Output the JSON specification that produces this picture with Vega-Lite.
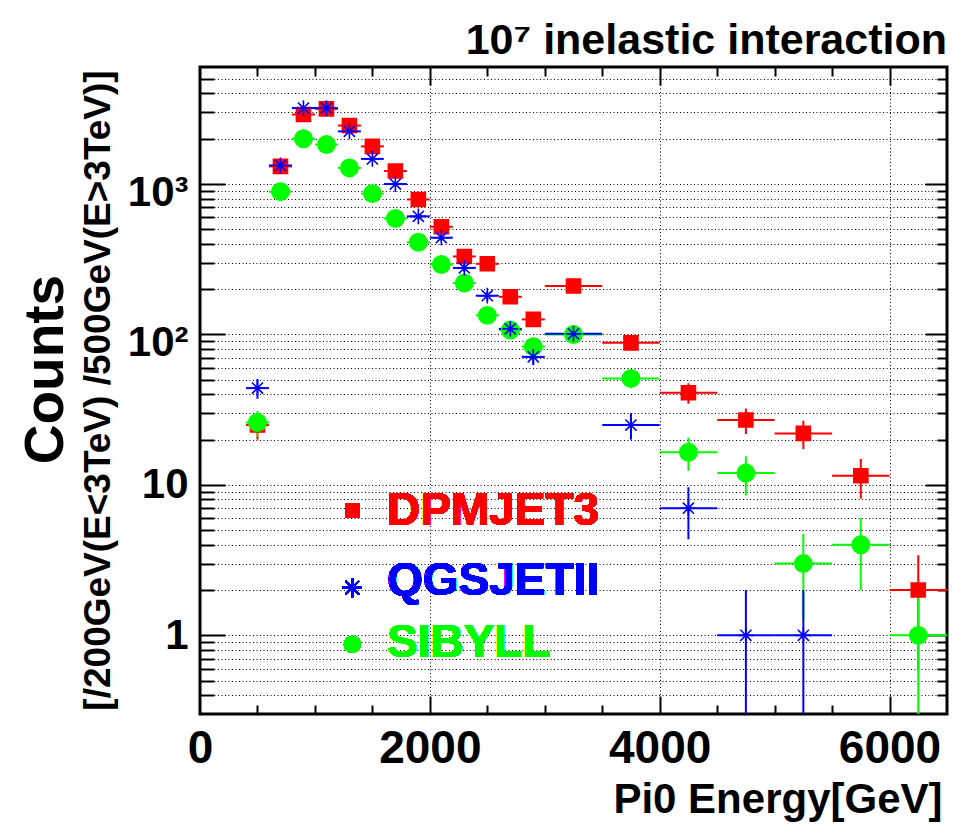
{
  "$schema": "https://vega.github.io/schema/vega-lite/v6.json",
  "width": 747,
  "height": 647,
  "autosize": {"type": "none"},
  "padding": {"left": 200, "top": 67, "right": 23, "bottom": 113},
  "background": "#ffffff",
  "title": {"text": "10⁷ inelastic interaction", "anchor": "end", "frame": "group", "font": "Liberation Sans", "fontSize": 43, "fontWeight": "bold", "color": "#000000", "baseline": "alphabetic", "offset": 10, "dy": 41},
  "config": {"view": {"stroke": "#000000", "strokeWidth": 3}, "font": "Liberation Sans"},
  "data": {"values": [
    {"m": "DPMJET3", "E": 500, "xl": 400, "xh": 600, "n": 25, "lo": 20, "hi": 30},
    {"m": "DPMJET3", "E": 700, "xl": 600, "xh": 800, "n": 1310, "lo": 1274, "hi": 1346},
    {"m": "DPMJET3", "E": 900, "xl": 800, "xh": 1000, "n": 2900, "lo": 2846, "hi": 2954},
    {"m": "DPMJET3", "E": 1100, "xl": 1000, "xh": 1200, "n": 3160, "lo": 3104, "hi": 3216},
    {"m": "DPMJET3", "E": 1300, "xl": 1200, "xh": 1400, "n": 2450, "lo": 2400, "hi": 2500},
    {"m": "DPMJET3", "E": 1500, "xl": 1400, "xh": 1600, "n": 1780, "lo": 1738, "hi": 1822},
    {"m": "DPMJET3", "E": 1700, "xl": 1600, "xh": 1800, "n": 1220, "lo": 1185, "hi": 1255},
    {"m": "DPMJET3", "E": 1900, "xl": 1800, "xh": 2000, "n": 790, "lo": 762, "hi": 818},
    {"m": "DPMJET3", "E": 2100, "xl": 2000, "xh": 2200, "n": 520, "lo": 497, "hi": 543},
    {"m": "DPMJET3", "E": 2300, "xl": 2200, "xh": 2400, "n": 330, "lo": 312, "hi": 348},
    {"m": "DPMJET3", "E": 2500, "xl": 2400, "xh": 2600, "n": 295, "lo": 278, "hi": 312},
    {"m": "DPMJET3", "E": 2700, "xl": 2600, "xh": 2800, "n": 178, "lo": 165, "hi": 191},
    {"m": "DPMJET3", "E": 2900, "xl": 2800, "xh": 3000, "n": 126, "lo": 115, "hi": 137},
    {"m": "DPMJET3", "E": 3250, "xl": 3000, "xh": 3500, "n": 210, "lo": 195.5, "hi": 224.5},
    {"m": "DPMJET3", "E": 3750, "xl": 3500, "xh": 4000, "n": 88, "lo": 78.6, "hi": 97.4},
    {"m": "DPMJET3", "E": 4250, "xl": 4000, "xh": 4500, "n": 41, "lo": 34.6, "hi": 47.4},
    {"m": "DPMJET3", "E": 4750, "xl": 4500, "xh": 5000, "n": 27, "lo": 21.8, "hi": 32.2},
    {"m": "DPMJET3", "E": 5250, "xl": 5000, "xh": 5500, "n": 22, "lo": 17.3, "hi": 26.7},
    {"m": "DPMJET3", "E": 5750, "xl": 5500, "xh": 6000, "n": 11.5, "lo": 8.1, "hi": 14.9},
    {"m": "DPMJET3", "E": 6250, "xl": 6000, "xh": 6500, "n": 2, "lo": 0.59, "hi": 3.41},
    {"m": "SIBYLL", "E": 500, "xl": 400, "xh": 600, "n": 26, "lo": 20.9, "hi": 31.1},
    {"m": "SIBYLL", "E": 700, "xl": 600, "xh": 800, "n": 890, "lo": 860, "hi": 920},
    {"m": "SIBYLL", "E": 900, "xl": 800, "xh": 1000, "n": 2000, "lo": 1955, "hi": 2045},
    {"m": "SIBYLL", "E": 1100, "xl": 1000, "xh": 1200, "n": 1830, "lo": 1787, "hi": 1873},
    {"m": "SIBYLL", "E": 1300, "xl": 1200, "xh": 1400, "n": 1280, "lo": 1244, "hi": 1316},
    {"m": "SIBYLL", "E": 1500, "xl": 1400, "xh": 1600, "n": 864, "lo": 835, "hi": 893},
    {"m": "SIBYLL", "E": 1700, "xl": 1600, "xh": 1800, "n": 590, "lo": 566, "hi": 614},
    {"m": "SIBYLL", "E": 1900, "xl": 1800, "xh": 2000, "n": 410, "lo": 390, "hi": 430},
    {"m": "SIBYLL", "E": 2100, "xl": 2000, "xh": 2200, "n": 292, "lo": 275, "hi": 309},
    {"m": "SIBYLL", "E": 2300, "xl": 2200, "xh": 2400, "n": 220, "lo": 205, "hi": 235},
    {"m": "SIBYLL", "E": 2500, "xl": 2400, "xh": 2600, "n": 134, "lo": 122.4, "hi": 145.6},
    {"m": "SIBYLL", "E": 2700, "xl": 2600, "xh": 2800, "n": 107, "lo": 96.7, "hi": 117.3},
    {"m": "SIBYLL", "E": 2900, "xl": 2800, "xh": 3000, "n": 83, "lo": 73.9, "hi": 92.1},
    {"m": "SIBYLL", "E": 3250, "xl": 3000, "xh": 3500, "n": 100, "lo": 90, "hi": 110},
    {"m": "SIBYLL", "E": 3750, "xl": 3500, "xh": 4000, "n": 51, "lo": 43.9, "hi": 58.1},
    {"m": "SIBYLL", "E": 4250, "xl": 4000, "xh": 4500, "n": 16.5, "lo": 12.4, "hi": 20.6},
    {"m": "SIBYLL", "E": 4750, "xl": 4500, "xh": 5000, "n": 12, "lo": 8.5, "hi": 15.5},
    {"m": "SIBYLL", "E": 5250, "xl": 5000, "xh": 5500, "n": 3, "lo": 1.27, "hi": 4.73},
    {"m": "SIBYLL", "E": 5750, "xl": 5500, "xh": 6000, "n": 4, "lo": 2, "hi": 6},
    {"m": "SIBYLL", "E": 6250, "xl": 6000, "xh": 6500, "n": 1, "lo": 0.01, "hi": 2},
    {"m": "QGSJETII", "E": 500, "xl": 400, "xh": 600, "n": 44, "lo": 37.4, "hi": 50.6},
    {"m": "QGSJETII", "E": 700, "xl": 600, "xh": 800, "n": 1330, "lo": 1293, "hi": 1367},
    {"m": "QGSJETII", "E": 900, "xl": 800, "xh": 1000, "n": 3200, "lo": 3143, "hi": 3257},
    {"m": "QGSJETII", "E": 1100, "xl": 1000, "xh": 1200, "n": 3200, "lo": 3143, "hi": 3257},
    {"m": "QGSJETII", "E": 1300, "xl": 1200, "xh": 1400, "n": 2240, "lo": 2193, "hi": 2287},
    {"m": "QGSJETII", "E": 1500, "xl": 1400, "xh": 1600, "n": 1470, "lo": 1432, "hi": 1508},
    {"m": "QGSJETII", "E": 1700, "xl": 1600, "xh": 1800, "n": 1000, "lo": 968, "hi": 1032},
    {"m": "QGSJETII", "E": 1900, "xl": 1800, "xh": 2000, "n": 610, "lo": 585, "hi": 635},
    {"m": "QGSJETII", "E": 2100, "xl": 2000, "xh": 2200, "n": 440, "lo": 419, "hi": 461},
    {"m": "QGSJETII", "E": 2300, "xl": 2200, "xh": 2400, "n": 277, "lo": 260, "hi": 294},
    {"m": "QGSJETII", "E": 2500, "xl": 2400, "xh": 2600, "n": 181, "lo": 167.5, "hi": 194.5},
    {"m": "QGSJETII", "E": 2700, "xl": 2600, "xh": 2800, "n": 109, "lo": 98.6, "hi": 119.4},
    {"m": "QGSJETII", "E": 2900, "xl": 2800, "xh": 3000, "n": 71, "lo": 62.6, "hi": 79.4},
    {"m": "QGSJETII", "E": 3250, "xl": 3000, "xh": 3500, "n": 101, "lo": 91, "hi": 111},
    {"m": "QGSJETII", "E": 3750, "xl": 3500, "xh": 4000, "n": 25, "lo": 20, "hi": 30},
    {"m": "QGSJETII", "E": 4250, "xl": 4000, "xh": 4500, "n": 7, "lo": 4.35, "hi": 9.65},
    {"m": "QGSJETII", "E": 4750, "xl": 4500, "xh": 5000, "n": 1, "lo": 0.01, "hi": 2},
    {"m": "QGSJETII", "E": 5250, "xl": 5000, "xh": 5500, "n": 1, "lo": 0.01, "hi": 2}
  ]},
  "resolve": {"axis": {"x": "independent", "y": "independent"}},
  "layer": [
    {
      "mark": {"type": "point", "opacity": 0},
      "encoding": {
        "x": {"field": "E", "type": "quantitative", "scale": {"domain": [0, 6500], "nice": false, "zero": false},
          "axis": {"orient": "bottom", "values": [0, 2000, 4000, 6000], "format": "d", "ticks": false, "domain": false, "labelFlush": false, "labelOverlap": false,
            "labelFont": "Liberation Sans", "labelFontWeight": "bold", "labelFontSize": 46, "labelColor": "#000000", "labelPadding": 12,
            "grid": true, "gridColor": "#000000", "gridWidth": 1, "gridDash": [1, 2.5],
            "title": "Pi0 Energy[GeV]", "titleFont": "Liberation Sans", "titleFontWeight": "bold", "titleFontSize": 42, "titleColor": "#000000",
            "titleX": 742, "titleY": 98, "titleAlign": "right", "titleBaseline": "alphabetic", "titleAngle": 0}},
        "y": {"field": "n", "type": "quantitative", "scale": {"type": "log", "domain": [0.3, 6000], "nice": false},
          "axis": {"orient": "left", "values": [1, 10, 100, 1000], "ticks": false, "domain": false, "grid": false, "labelFlush": false, "labelOverlap": false,
            "labelExpr": "datum.value == 1 ? '1' : datum.value == 10 ? '10' : datum.value == 100 ? '10²' : '10³'",
            "labelFont": "Liberation Sans", "labelFontWeight": "bold", "labelFontSize": 42, "labelColor": "#000000", "labelPadding": 12,
            "labelOffset": {"condition": {"test": "datum.value >= 100", "value": 8}, "value": 0},
            "title": "Counts", "titleFont": "Liberation Sans", "titleFontWeight": "bold", "titleFontSize": 55, "titleColor": "#000000",
            "titleX": -138, "titleY": 302, "titleAngle": 270, "titleAlign": "center", "titleBaseline": "alphabetic"}}
      }
    },
    {
      "mark": {"type": "point", "opacity": 0},
      "encoding": {
        "x": {"field": "E", "type": "quantitative", "scale": {"domain": [0, 6500], "nice": false, "zero": false},
          "axis": {"orient": "bottom", "values": [500, 1000, 1500, 2000, 2500, 3000, 3500, 4000, 4500, 5000, 5500, 6000], "labels": false, "domain": false, "grid": false,
            "tickColor": "#000000", "tickWidth": 2, "tickSize": {"condition": {"test": "datum.value % 2000 == 0", "value": -18}, "value": -9}, "title": null}},
        "y": {"field": "n", "type": "quantitative", "scale": {"type": "log", "domain": [0.3, 6000], "nice": false},
          "axis": {"orient": "left", "values": [0.4, 0.5, 0.6, 0.7, 0.8, 0.9, 1, 2, 3, 4, 5, 6, 7, 8, 9, 10, 20, 30, 40, 50, 60, 70, 80, 90, 100, 200, 300, 400, 500, 600, 700, 800, 900, 1000, 2000, 3000, 4000, 5000],
            "labels": false, "domain": false, "grid": true, "gridColor": "#000000", "gridWidth": 1, "gridDash": [1, 2.5],
            "tickColor": "#000000", "tickWidth": 2,
            "tickSize": {"condition": {"test": "datum.value == 1 || datum.value == 10 || datum.value == 100 || datum.value == 1000", "value": -25}, "value": -14},
            "title": "[/200GeV(E<3TeV) /500GeV(E>3TeV)]", "titleFont": "Liberation Sans", "titleFontWeight": "bold", "titleFontSize": 37, "titleColor": "#000000",
            "titleX": -91, "titleY": 323, "titleAngle": 270, "titleAlign": "center", "titleBaseline": "alphabetic"}}
      }
    },
    {
      "mark": {"type": "point", "opacity": 0},
      "encoding": {
        "x": {"field": "E", "type": "quantitative", "scale": {"domain": [0, 6500], "nice": false, "zero": false},
          "axis": {"orient": "top", "values": [500, 1000, 1500, 2000, 2500, 3000, 3500, 4000, 4500, 5000, 5500, 6000], "labels": false, "domain": false, "grid": false,
            "tickColor": "#000000", "tickWidth": 2, "tickSize": {"condition": {"test": "datum.value % 2000 == 0", "value": -18}, "value": -9}, "title": null}},
        "y": {"field": "n", "type": "quantitative", "scale": {"type": "log", "domain": [0.3, 6000], "nice": false},
          "axis": {"orient": "right", "values": [0.4, 0.5, 0.6, 0.7, 0.8, 0.9, 1, 2, 3, 4, 5, 6, 7, 8, 9, 10, 20, 30, 40, 50, 60, 70, 80, 90, 100, 200, 300, 400, 500, 600, 700, 800, 900, 1000, 2000, 3000, 4000, 5000],
            "labels": false, "domain": false, "grid": false, "tickColor": "#000000", "tickWidth": 2,
            "tickSize": {"condition": {"test": "datum.value == 1 || datum.value == 10 || datum.value == 100 || datum.value == 1000", "value": -22}, "value": -10},
            "title": null}}
      }
    },
    {
      "mark": {"type": "rule", "strokeWidth": 2},
      "encoding": {
        "x": {"field": "xl", "type": "quantitative", "scale": {"domain": [0, 6500], "nice": false, "zero": false}, "axis": null},
        "x2": {"field": "xh"},
        "y": {"field": "n", "type": "quantitative", "scale": {"type": "log", "domain": [0.3, 6000], "nice": false}, "axis": null},
        "color": {"field": "m", "type": "nominal", "scale": {"domain": ["DPMJET3", "QGSJETII", "SIBYLL"], "range": ["#ff0000", "#0000ff", "#00ff00"]}, "legend": null}
      }
    },
    {
      "mark": {"type": "rule", "strokeWidth": 2, "clip": true},
      "encoding": {
        "x": {"field": "E", "type": "quantitative", "scale": {"domain": [0, 6500], "nice": false, "zero": false}, "axis": null},
        "y": {"field": "lo", "type": "quantitative", "scale": {"type": "log", "domain": [0.3, 6000], "nice": false}, "axis": null},
        "y2": {"field": "hi"},
        "color": {"field": "m", "type": "nominal", "scale": {"domain": ["DPMJET3", "QGSJETII", "SIBYLL"], "range": ["#ff0000", "#0000ff", "#00ff00"]}, "legend": null}
      }
    },
    {
      "mark": {"type": "point", "strokeWidth": 1.6, "opacity": 1},
      "encoding": {
        "x": {"field": "E", "type": "quantitative", "scale": {"domain": [0, 6500], "nice": false, "zero": false}, "axis": null},
        "y": {"field": "n", "type": "quantitative", "scale": {"type": "log", "domain": [0.3, 6000], "nice": false}, "axis": null},
        "shape": {"field": "m", "type": "nominal",
          "scale": {"domain": ["DPMJET3", "QGSJETII", "SIBYLL"], "range": ["square", "M-1,0L1,0M0,-1L0,1M-0.7071,-0.7071L0.7071,0.7071M-0.7071,0.7071L0.7071,-0.7071", "circle"]}, "legend": null},
        "fill": {"field": "m", "type": "nominal", "scale": {"domain": ["DPMJET3", "QGSJETII", "SIBYLL"], "range": ["#ff0000", "transparent", "#00ff00"]}, "legend": null},
        "stroke": {"field": "m", "type": "nominal", "scale": {"domain": ["DPMJET3", "QGSJETII", "SIBYLL"], "range": ["#ff0000", "#0000ff", "#00ff00"]}, "legend": null},
        "size": {"field": "m", "type": "nominal", "scale": {"domain": ["DPMJET3", "QGSJETII", "SIBYLL"], "range": [196, 300, 225]}, "legend": null}
      }
    },
    {
      "transform": [{"filter": "datum.m == 'QGSJETII'"}],
      "mark": {"type": "circle", "size": 14, "color": "#0000ff", "opacity": 1},
      "encoding": {
        "x": {"field": "E", "type": "quantitative", "scale": {"domain": [0, 6500], "nice": false, "zero": false}, "axis": null},
        "y": {"field": "n", "type": "quantitative", "scale": {"type": "log", "domain": [0.3, 6000], "nice": false}, "axis": null}
      }
    },
    {
      "mark": {"type": "point", "shape": "square", "filled": true, "size": 200, "color": "#ff0000", "opacity": 1},
      "encoding": {"x": {"datum": 1325, "type": "quantitative", "axis": null}, "y": {"datum": 6.72, "type": "quantitative", "axis": null}}
    },
    {
      "mark": {"type": "point", "shape": "M-1,0L1,0M0,-1L0,1M-0.7071,-0.7071L0.7071,0.7071M-0.7071,0.7071L0.7071,-0.7071", "filled": false, "size": 360, "strokeWidth": 1.6, "color": "#0000ff", "opacity": 1},
      "encoding": {"x": {"datum": 1325, "type": "quantitative", "axis": null}, "y": {"datum": 2.075, "type": "quantitative", "axis": null}}
    },
    {
      "mark": {"type": "point", "shape": "circle", "filled": true, "size": 290, "color": "#00ff00", "opacity": 1},
      "encoding": {"x": {"datum": 1325, "type": "quantitative", "axis": null}, "y": {"datum": 0.871, "type": "quantitative", "axis": null}}
    },
    {
      "mark": {"type": "text", "text": "DPMJET3", "align": "left", "baseline": "alphabetic", "font": "Liberation Sans", "fontWeight": "bold", "fontSize": 46, "color": "#ff0000"},
      "encoding": {"x": {"datum": 1627, "type": "quantitative", "axis": null}, "y": {"datum": 5.41, "type": "quantitative", "axis": null}}
    },
    {
      "mark": {"type": "text", "text": "QGSJETII", "align": "left", "baseline": "alphabetic", "font": "Liberation Sans", "fontWeight": "bold", "fontSize": 46, "color": "#0000ff"},
      "encoding": {"x": {"datum": 1627, "type": "quantitative", "axis": null}, "y": {"datum": 1.853, "type": "quantitative", "axis": null}}
    },
    {
      "mark": {"type": "text", "text": "SIBYLL", "align": "left", "baseline": "alphabetic", "font": "Liberation Sans", "fontWeight": "bold", "fontSize": 46, "color": "#00ff00"},
      "encoding": {"x": {"datum": 1627, "type": "quantitative", "axis": null}, "y": {"datum": 0.721, "type": "quantitative", "axis": null}}
    }
  ]
}
